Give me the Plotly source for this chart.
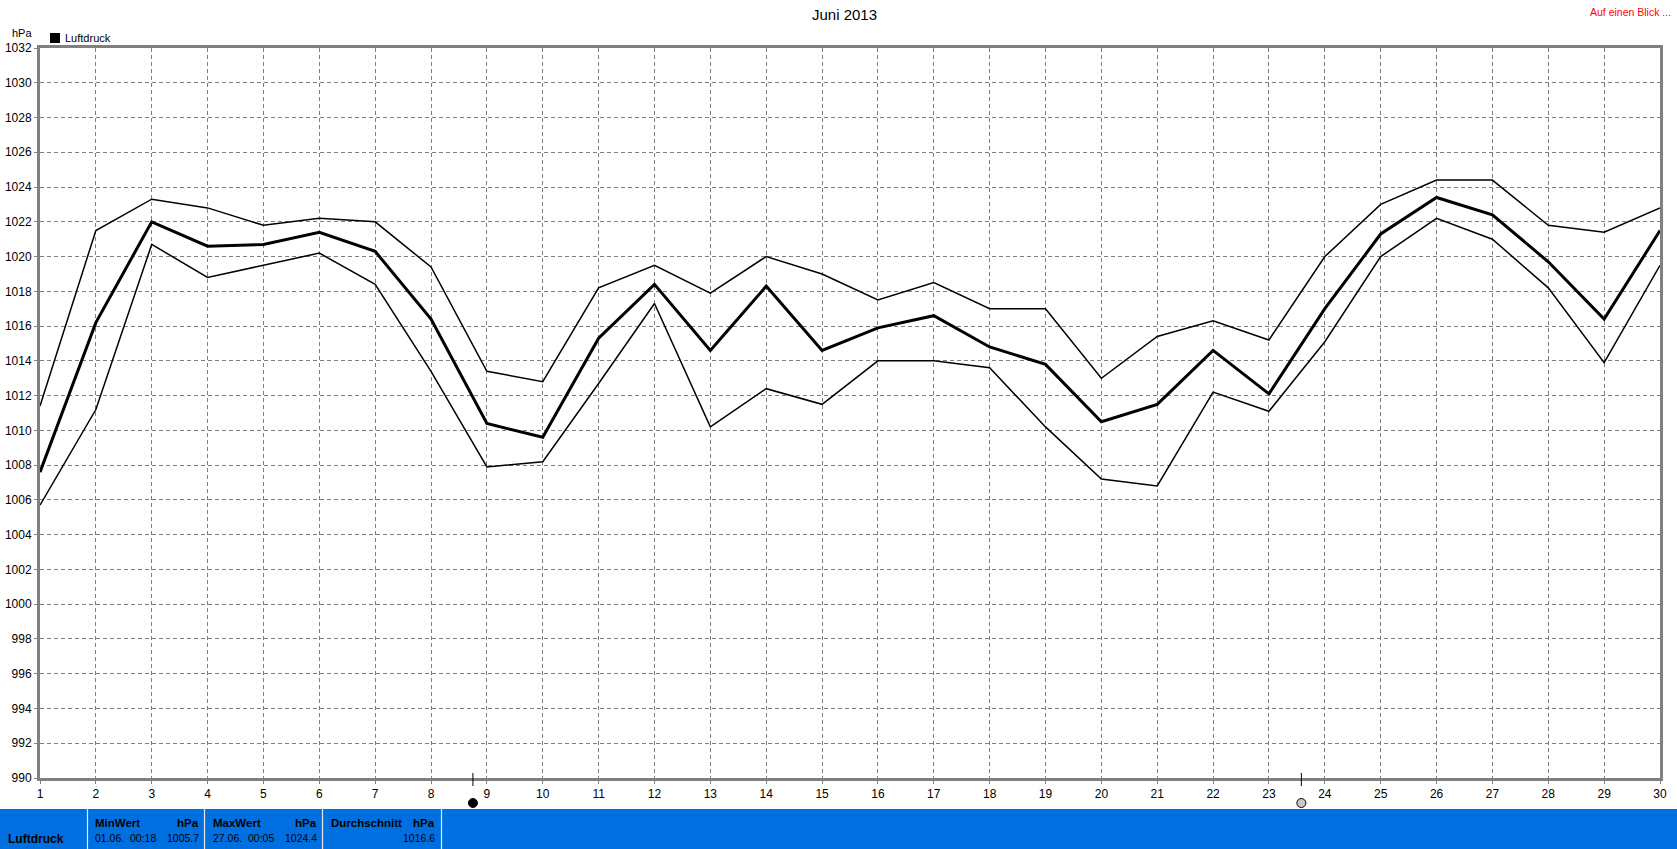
import plotly.graph_objects as go

days = list(range(1, 31))
luftdruck_max = [1011.4, 1021.5, 1023.3, 1022.8, 1021.8, 1022.2, 1022.0, 1019.4, 1013.4, 1012.8,
                 1018.2, 1019.5, 1017.9, 1020.0, 1019.0, 1017.5, 1018.5, 1017.0, 1017.0, 1013.0,
                 1015.4, 1016.3, 1015.2, 1020.0, 1023.0, 1024.4, 1024.4, 1021.8, 1021.4, 1022.8]
luftdruck_avg = [1007.6, 1016.2, 1022.0, 1020.6, 1020.7, 1021.4, 1020.3, 1016.4, 1010.4, 1009.6,
                 1015.3, 1018.4, 1014.6, 1018.3, 1014.6, 1015.9, 1016.6, 1014.8, 1013.8, 1010.5,
                 1011.5, 1014.6, 1012.1, 1017.0, 1021.3, 1023.4, 1022.4, 1019.7, 1016.4, 1021.5]
luftdruck_min = [1005.7, 1011.2, 1020.7, 1018.8, 1019.5, 1020.2, 1018.4, 1013.4, 1007.9, 1008.2,
                 1012.7, 1017.3, 1010.2, 1012.4, 1011.5, 1014.0, 1014.0, 1013.6, 1010.2, 1007.2,
                 1006.8, 1012.2, 1011.1, 1015.1, 1020.0, 1022.2, 1021.0, 1018.2, 1013.9, 1019.5]
moon_days = [8.75, 23.58]
moon_colors = ["#000000", "#c8c8c8"]

W, H = 1677, 849
L, R, T, B = 40, 1660, 48, 778
FONT = "Liberation Sans"
BLUE = "#0070e0"


def px(x):
    return (x - L) / (R - L)


def py(y):
    return 1 - (y - T) / (B - T)


fig = go.Figure()
fig.add_trace(go.Scatter(x=days, y=luftdruck_max, mode="lines", name="Max",
                         line=dict(color="#000000", width=1.5), showlegend=False))
fig.add_trace(go.Scatter(x=days, y=luftdruck_min, mode="lines", name="Min",
                         line=dict(color="#000000", width=1.5), showlegend=False))
fig.add_trace(go.Scatter(x=days, y=luftdruck_avg, mode="lines", name="Luftdruck",
                         line=dict(color="#000000", width=3), showlegend=False))

shapes = []
ann = []


def text(x, y, s, size=12, color="#000000", anchor="left", bold=False):
    ann.append(dict(xref="paper", yref="paper", x=px(x), y=py(y), text=f"<b>{s}</b>" if bold else s,
                    showarrow=False, xanchor=anchor, yanchor="middle",
                    font=dict(family=FONT, size=size, color=color), borderpad=0))


# bottom info band
shapes.append(dict(type="rect", xref="paper", yref="paper", x0=px(0), x1=px(W), y0=py(849), y1=py(809),
                   fillcolor=BLUE, line_width=0, layer="below"))
for sep in [87.5, 204.5, 322.5, 441.5]:
    shapes.append(dict(type="line", xref="paper", yref="paper", x0=px(sep), x1=px(sep),
                       y0=py(849), y1=py(809), line=dict(color="#e8e8e8", width=1.2)))

# moon phase markers
for d, c in zip(moon_days, moon_colors):
    xp = L + (d - 1) / 29 * (R - L)
    shapes.append(dict(type="line", xref="x", yref="paper", x0=d, x1=d, y0=py(773), y1=py(786),
                       line=dict(color="#000000", width=1)))
    shapes.append(dict(type="circle", xref="paper", yref="paper", x0=px(xp - 4.5), x1=px(xp + 4.5),
                       y0=py(807.5), y1=py(798.5), fillcolor=c, line=dict(color="#000000", width=1)))

# legend swatch
shapes.append(dict(type="rect", xref="paper", yref="paper", x0=px(50), x1=px(60), y0=py(43), y1=py(33),
                   fillcolor="#000000", line_width=0))

text(63.5, 38, "Luftdruck", 11)
text(11, 33.5, "hPa", 11)
text(W / 2 + 5.5, 15, "Juni 2013", 15, anchor="center")
text(1672, 12, "Auf einen Blick ...", 10.5, color="#ff0000", anchor="right")

text(7, 839, "Luftdruck", 12, bold=True)
text(94, 823, "MinWert", 11.5, bold=True)
text(200, 823, "hPa", 11.5, anchor="right", bold=True)
text(94, 838.5, "01.06.&nbsp;&nbsp;00:18", 10.5)
text(200, 838.5, "1005.7", 10.5, anchor="right")
text(212, 823, "MaxWert", 11.5, bold=True)
text(318, 823, "hPa", 11.5, anchor="right", bold=True)
text(212, 838.5, "27.06.&nbsp;&nbsp;00:05", 10.5)
text(318, 838.5, "1024.4", 10.5, anchor="right")
text(330, 823, "Durchschnitt", 11.5, bold=True)
text(436, 823, "hPa", 11.5, anchor="right", bold=True)
text(436, 838.5, "1016.6", 10.5, anchor="right")

axis_common = dict(showgrid=True, gridcolor="#808080", griddash="4px,3px", gridwidth=1,
                   showline=True, linecolor="#808080", linewidth=3, mirror=True,
                   zeroline=False, ticks="outside", ticklen=3, tickcolor="#808080", tickwidth=1,
                   automargin=False,
                   tickfont=dict(family=FONT, size=12, color="#000000"))

fig.update_layout(
    width=W, height=H, autosize=False,
    margin=dict(l=L, r=W - R, t=T, b=H - B, pad=0),
    paper_bgcolor="#ffffff", plot_bgcolor="#ffffff",
    showlegend=False, shapes=shapes, annotations=ann,
    xaxis=dict(range=[1, 30], tickmode="linear", tick0=1, dtick=1, **axis_common),
    yaxis=dict(range=[990, 1032], tickmode="linear", tick0=990, dtick=2, **axis_common),
)

fig.write_html("out.html", config={"displayModeBar": False},
               post_script="document.body.style.margin='0';document.body.style.overflow='hidden';")
